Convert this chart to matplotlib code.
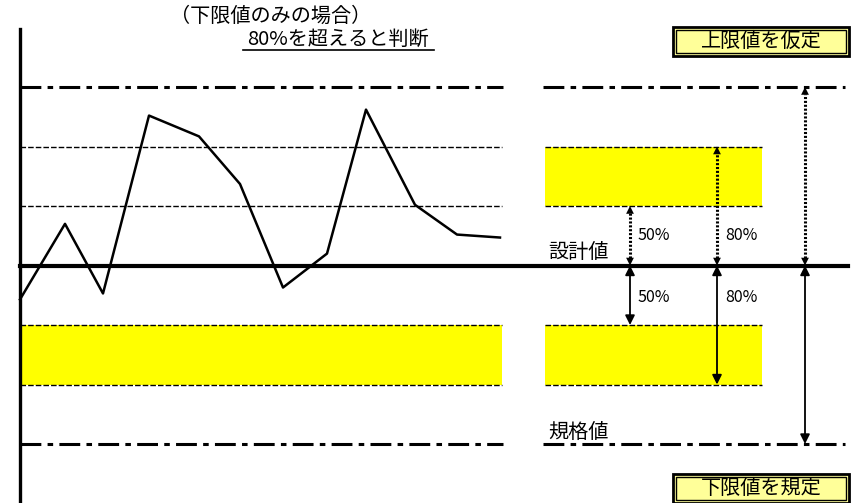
import matplotlib.pyplot as plt
from matplotlib.patches import Rectangle

plt.rcParams['font.family'] = ['Noto Sans CJK JP', 'DejaVu Sans']
plt.rcParams['lines.scale_dashes'] = False

# measured values, in band units (design value = 0)
sample_x = [20, 65, 103, 149, 199, 240, 283, 327, 366, 415, 457, 500]
sample_y = [-0.57, 0.70, -0.47, 2.52, 2.17, 1.37, -0.37, 0.20, 2.62, 1.02, 0.52, 0.47]

design_value = 0
band_levels = [1, 2]          # 50% / 80% lines
limit_level = 3               # spec limit (lower) / assumed limit (upper)

arrow_x = [630, 717, 805]
arrow_levels = [1, 2, 3]
arrow_labels = ['50%', '80%', '']

left_x = (20, 502)
band_x = (545, 762)
limit_x = (543, 845)

# pixel row -> band units
def py2u(py):
    return (265.5 - py) / 59.5

fig = plt.figure(figsize=(8.61, 5.03), dpi=100)
ax = fig.add_axes([0, 0, 1, 1])
ax.set_xlim(0, 861)
ax.set_ylim(py2u(503), py2u(0))
ax.axis('off')

dashdot = (0, (15, 4.5, 4, 4.5))
dashed = (0, (4, 1.5))

# yellow zones
lo, hi = band_levels
ax.fill_between(left_x, -hi, -lo, color='#ffff00', lw=0, zorder=1)
ax.fill_between(band_x, -hi, -lo, color='#ffff00', lw=0, zorder=1)
ax.fill_between(band_x, lo, hi, color='#ffff00', lw=0, zorder=1)

# thin dashed band edges
for lev in band_levels:
    for sgn in (1, -1):
        ax.plot(left_x, [sgn * lev] * 2, color='black', lw=1, ls=dashed, zorder=2)
        ax.plot(band_x, [sgn * lev] * 2, color='black', lw=1, ls=dashed, zorder=2)

# limits
for sgn in (1, -1):
    ax.plot([20, 503], [sgn * limit_level] * 2, color='black', lw=2.2, ls=dashdot, zorder=2)
    ax.plot(limit_x, [sgn * limit_level] * 2, color='black', lw=2.2, ls=dashdot, zorder=2)

# design value line and vertical axis
ax.plot([20, 848], [design_value] * 2, color='black', lw=3, zorder=3)
ax.plot([20, 20], [py2u(29), py2u(503)], color='black', lw=2.4, zorder=3)

# measured series
ax.plot(sample_x, sample_y, color='black', lw=1.8, zorder=4)

# arrows: dotted above the design value, solid below
head = dict(arrowstyle='<|-|>', color='black', shrinkA=0, shrinkB=0, mutation_scale=14)
for x, lev, lab in zip(arrow_x, arrow_levels, arrow_labels):
    ax.plot([x, x], [design_value + 0.12, lev - 0.12], color='black', lw=2.2,
            ls=(0, (1.5, 1.3)), zorder=5)
    ax.annotate('', xy=(x, lev), xytext=(x, design_value),
                arrowprops=dict(head, lw=0), zorder=5)
    ax.annotate('', xy=(x, -lev), xytext=(x, design_value),
                arrowprops=dict(head, lw=1.3), zorder=5)
    if lab:
        ax.text(x + 8, py2u(236), lab, fontsize=11.5, va='center', ha='left')
        ax.text(x + 8, py2u(297), lab, fontsize=11.5, va='center', ha='left')

ax.text(548, py2u(252), '設計値', fontsize=14.5, va='center', ha='left')
ax.text(548, py2u(432), '規格値', fontsize=14.5, va='center', ha='left')

# titles
ax.text(271, py2u(16), '（下限値のみの場合）', fontsize=14.5, va='center', ha='center')
ax.text(338, py2u(39), '80%を超えると判断', fontsize=14.5, va='center', ha='center')
ax.plot([243, 434], [py2u(50)] * 2, color='black', lw=1.2)

# boxed labels
def boxed(x0, x1, y0, y1, text):
    ax.add_patch(Rectangle((x0, py2u(y1)), x1 - x0, py2u(y0) - py2u(y1),
                           facecolor='#ffff99', edgecolor='black', lw=2, zorder=6))
    ax.add_patch(Rectangle((x0 + 3, py2u(y1 - 3)), x1 - x0 - 6, py2u(y0 + 3) - py2u(y1 - 3),
                           facecolor='none', edgecolor='black', lw=1, zorder=7))
    ax.text((x0 + x1) / 2, py2u((y0 + y1) / 2), text, fontsize=14.5,
            ha='center', va='center', zorder=8)

boxed(673, 849, 27, 56, '上限値を仮定')
boxed(673, 849, 474, 503, '下限値を規定')

fig.savefig('out.png', dpi=100)
